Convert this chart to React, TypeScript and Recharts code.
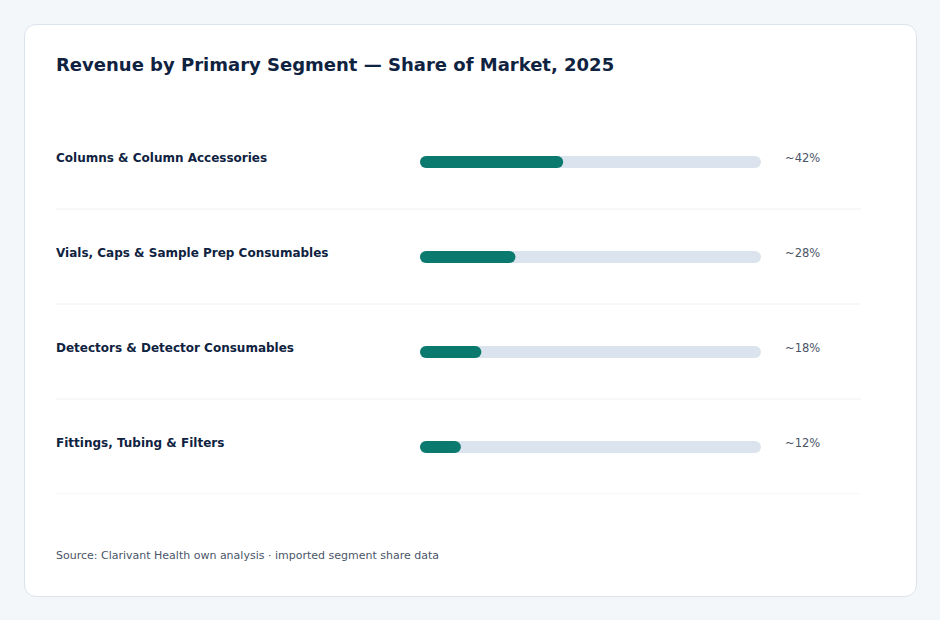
import { BarChart, Bar, XAxis, YAxis } from 'recharts'

const segments = [
  'Columns & Column Accessories',
  'Vials, Caps & Sample Prep Consumables',
  'Detectors & Detector Consumables',
  'Fittings, Tubing & Filters',
]
const shares = [42, 28, 18, 12]
const shareLabels = ['~42%', '~28%', '~18%', '~12%']

const data = segments.map((name, i) => ({ name, share: shares[i], label: shareLabels[i] }))

const FONT = '"DejaVu Sans", sans-serif'
const CHART_W = 805
const CHART_H = 380
const ROW_H = CHART_H / segments.length

function SegmentTick({ y, payload }: any) {
  return (
    <g>
      <text
        x={0}
        y={y - 4}
        dy="0.35em"
        textAnchor="start"
        fontFamily={FONT}
        fontSize={12}
        fontWeight={700}
        fill="#0f2341"
      >
        {payload.value}
      </text>
      <line x1={0} x2={CHART_W} y1={y + ROW_H / 2} y2={y + ROW_H / 2} stroke="#edf0f4" strokeWidth={1} />
    </g>
  )
}

function ShareTick({ x, y, payload }: any) {
  const row = data.find((d) => d.name === payload.value)
  return (
    <text x={x} y={y - 4} dy="0.35em" textAnchor="start" fontFamily={FONT} fontSize={11.5} fill="#4a5568">
      {row ? row.label : ''}
    </text>
  )
}

export default function App() {
  return (
    <div
      style={{
        position: 'fixed',
        left: 0,
        top: 0,
        width: 940,
        height: 620,
        background: '#f4f7fa',
        fontFamily: FONT,
      }}
    >
      <div
        style={{
          position: 'absolute',
          left: 24,
          top: 24,
          width: 891,
          height: 571,
          background: '#fff',
          border: '1px solid #dde3ea',
          borderRadius: 12,
        }}
      >
        <div
          style={{
            position: 'absolute',
            left: 31,
            top: 29,
            fontSize: 18,
            fontWeight: 700,
            color: '#0f2341',
            whiteSpace: 'nowrap',
          }}
        >
          Revenue by Primary Segment — Share of Market, 2025
        </div>
        <div style={{ position: 'absolute', left: 31, top: 89 }}>
          <BarChart
            width={CHART_W}
            height={CHART_H}
            data={data}
            layout="vertical"
            margin={{ top: 0, right: 0, bottom: 0, left: 0 }}
          >
            <XAxis type="number" domain={[0, 100]} hide />
            <YAxis
              type="category"
              dataKey="name"
              width={364}
              axisLine={false}
              tickLine={false}
              tick={<SegmentTick />}
            />
            <YAxis
              yAxisId="right"
              orientation="right"
              type="category"
              dataKey="name"
              width={100}
              axisLine={false}
              tickLine={false}
              tickMargin={18}
              tick={<ShareTick />}
            />
            <Bar
              dataKey="share"
              fill="#0b7a6e"
              barSize={12}
              radius={6}
              background={{ fill: '#dbe4ee', radius: 6 }}
              isAnimationActive={false}
            />
          </BarChart>
        </div>
        <div
          style={{
            position: 'absolute',
            left: 31,
            top: 524,
            fontSize: 11,
            color: '#4a5568',
            whiteSpace: 'nowrap',
          }}
        >
          Source: Clarivant Health own analysis · imported segment share data
        </div>
      </div>
    </div>
  )
}
